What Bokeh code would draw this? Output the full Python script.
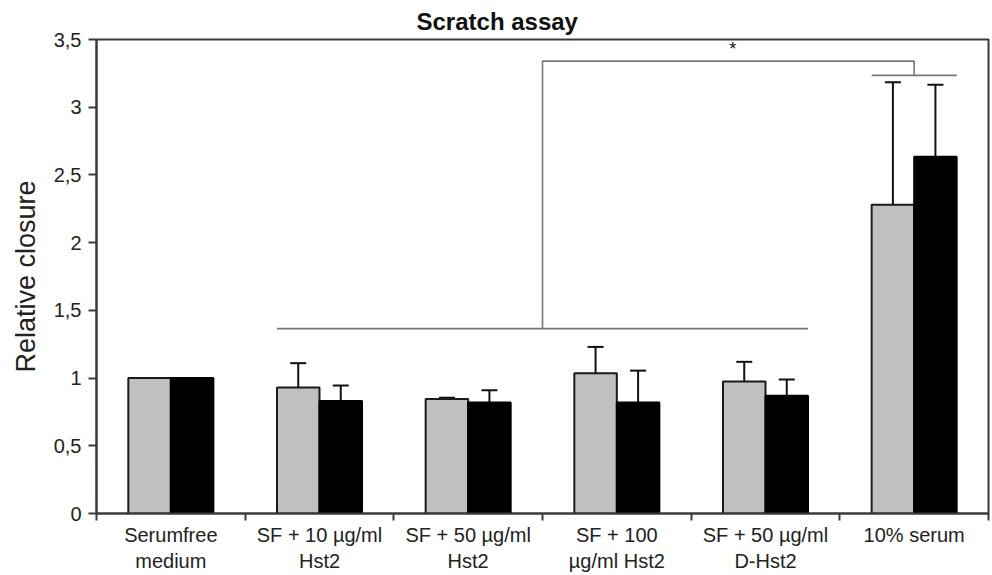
from bokeh.plotting import figure
from bokeh.models import (Range1d, FixedTicker, CustomJSTickFormatter, Whisker,
                          ColumnDataSource, TeeHead)
from bokeh.core.properties import value
from bokeh.embed import file_html
from bokeh.resources import INLINE

# ---------------- data ----------------
categories = ["Serumfree\nmedium", "SF + 10 µg/ml\nHst2", "SF + 50 µg/ml\nHst2",
              "SF + 100\nµg/ml Hst2", "SF + 50 µg/ml\nD-Hst2", "10% serum"]
gray_values = [1.0, 0.93, 0.845, 1.035, 0.975, 2.28]
gray_errors = [0.0, 0.18, 0.01, 0.195, 0.145, 0.905]
black_values = [1.0, 0.83, 0.82, 0.82, 0.87, 2.635]
black_errors = [0.0, 0.115, 0.09, 0.235, 0.12, 0.53]
y_ticks = [0, 0.5, 1, 1.5, 2, 2.5, 3, 3.5]

# significance annotation: group of treatments vs. 10% serum
sig_group = [1, 4]          # first and last category index of the group
sig_target = 5              # 10% serum
sig_group_y = 1.365
sig_top_y = 3.34
sig_target_y = 3.235
sig_label = "*"

FONT = "Liberation Sans"
BW = 0.286                  # bar width in category units
n = len(categories)

centers = [i + 0.5 for i in range(n)]
x_gray = [c - BW / 2 for c in centers]
x_black = [c + BW / 2 for c in centers]

p = figure(width=990, height=574, x_range=Range1d(0, n), y_range=Range1d(0, 3.5),
           output_backend="svg", toolbar_location=None,
           min_border_left=96, min_border_right=2, min_border_top=39, min_border_bottom=60)
p.background_fill_color = "white"
p.border_fill_color = "white"
p.outline_line_color = "#3a3a3a"
p.outline_line_width = 2
p.xgrid.visible = False
p.ygrid.visible = False

# title
p.title.text = "Scratch assay"
p.title.text_font = FONT
p.title.text_font_style = "bold"
p.title.text_font_size = "24px"
p.title.text_color = "#111111"
p.title.align = "left"
p.title.offset = 320
p.title.standoff = 9

# bars
p.vbar(x=x_gray, top=gray_values, bottom=0, width=BW, fill_color="#c0c0c0",
       line_color="#1a1a1a", line_width=2)
p.vbar(x=x_black, top=black_values, bottom=0, width=BW, fill_color="#000000",
       line_color="#000000", line_width=2)

# error bars
def err_source(xs, vals, errs):
    xx, lo, hi = [], [], []
    for x, v, e in zip(xs, vals, errs):
        if e > 0:
            xx.append(x); lo.append(v - e); hi.append(v + e)
    return ColumnDataSource(dict(x=xx, lower=lo, upper=hi))

for xs, vals, errs in [(x_gray, gray_values, gray_errors), (x_black, black_values, black_errors)]:
    w = Whisker(source=err_source(xs, vals, errs), base="x", lower="lower", upper="upper",
                line_color="#111111", line_width=2,
                upper_head=TeeHead(size=16, line_color="#111111", line_width=2),
                lower_head=TeeHead(size=16, line_color="#111111", line_width=2))
    p.add_layout(w)

# significance brackets
g_left = centers[sig_group[0]] - BW
g_right = centers[sig_group[1]] + BW
g_mid = (centers[sig_group[0]] + centers[sig_group[1]]) / 2
t_c = centers[sig_target]
br = dict(line_color="#777777", line_width=1.6)
p.line([g_left, g_right], [sig_group_y, sig_group_y], **br)
p.line([g_mid, g_mid, t_c, t_c], [sig_group_y, sig_top_y, sig_top_y, sig_target_y], **br)
p.line([t_c - BW, t_c + BW], [sig_target_y, sig_target_y], **br)
p.text(x=[(g_mid + t_c) / 2 + 0.03], y=[sig_top_y + 0.09], text=[sig_label],
       text_font=value(FONT), text_font_size="18px", text_align="center",
       text_baseline="middle", text_color="#111111")

# y axis
ya = p.yaxis[0]
ya.ticker = FixedTicker(ticks=y_ticks)
ya.formatter = CustomJSTickFormatter(code="return tick.toString().replace('.', ',');")
ya.axis_label = "Relative closure"
ya.axis_label_text_font = FONT
ya.axis_label_text_font_style = "normal"
ya.axis_label_text_font_size = "27px"
ya.axis_label_text_color = "#222222"
ya.axis_label_standoff = 10
ya.major_label_text_font = FONT
ya.major_label_text_font_size = "20px"
ya.major_label_text_color = "#222222"
ya.major_label_standoff = 7
ya.major_tick_out = 8
ya.major_tick_in = 0
ya.major_tick_line_width = 2
ya.major_tick_line_color = "#3a3a3a"
ya.minor_tick_line_color = None
ya.axis_line_color = "#3a3a3a"
ya.axis_line_width = 2

# x axis: labels at category centres, ticks at boundaries
xa = p.xaxis[0]
xa.ticker = FixedTicker(ticks=centers, minor_ticks=list(range(n + 1)))
xa.formatter = CustomJSTickFormatter(args=dict(labels=categories),
                                     code="return labels[Math.floor(tick)];")
xa.major_label_text_font = FONT
xa.major_label_text_font_size = "20px"
xa.major_label_text_color = "#222222"
xa.major_label_standoff = 3
xa.major_tick_line_color = None
xa.major_tick_out = 0
xa.major_tick_in = 0
xa.minor_tick_out = 7
xa.minor_tick_in = 0
xa.minor_tick_line_width = 2
xa.minor_tick_line_color = "#3a3a3a"
xa.axis_line_color = "#3a3a3a"
xa.axis_line_width = 2

open("out.html", "w").write(file_html(p, INLINE))
